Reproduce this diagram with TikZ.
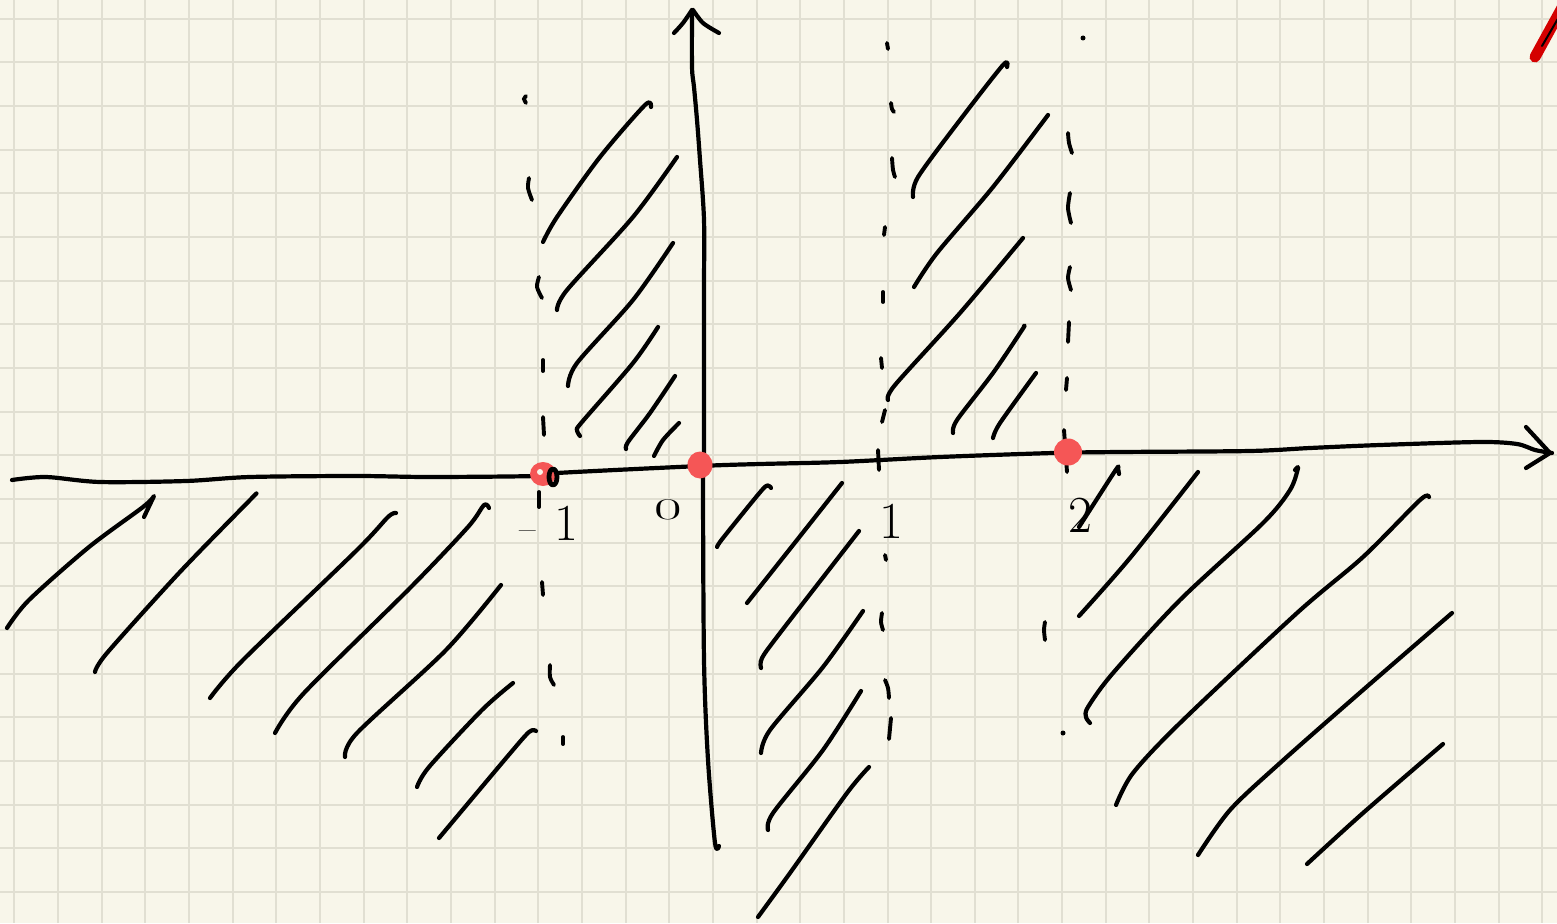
\documentclass[tikz,border=0pt]{standalone}
\usepackage{fontspec}
\usepackage{graphicx}
\definecolor{paper}{RGB}{248,246,234}
\definecolor{gridc}{RGB}{225,223,210}
\definecolor{dotred}{RGB}{245,86,86}
\definecolor{markred}{RGB}{212,0,0}
\tikzset{
  ink/.style={line width=4.2pt, line cap=round, line join=round, black},
  dsh/.style={line width=3.9pt, line cap=round, black},
  gridline/.style={gridc, line width=2pt},
  reddot/.style={fill=dotred, draw=none},
  lbl/.style={inner sep=0pt, anchor=base, font=\fontsize{52}{52}\selectfont}
}
\begin{document}
\begin{tikzpicture}[x=1pt,y=-1pt]
\useasboundingbox (0,0) rectangle (1557,923);
\fill[paper] (0,0) rectangle (1557,923);
\foreach \i in {0,...,35} \draw[gridline] ({14.3+43.66*\i},0) -- ({14.3+43.66*\i},923);
\foreach \j in {0,...,20} \draw[gridline] (0,{18.7+43.66*\j}) -- (1557,{18.7+43.66*\j});

% axes
\draw[ink] plot[smooth] coordinates {(12,480)(46,477)(100,482)(186,481)(250,477)(357,476)(429,477)(536,476)(557,473)(700,466)(760,464)(840,462)(940,457)(1053,453)(1120,452)(1250,451)(1310,448)(1380,445)(1480,442)(1517,444)(1535,450)(1552,453)};
\draw[ink] (1526,427) -- (1550,453) -- (1526,468);
\draw[ink] plot[smooth] coordinates {(692,10)(692,67)(694,87)(697,120)(700,160)(704,220)(704,293)(704,460)(703,473)(704,660)(708,760)(715,843)(719,846)};
\draw[ink] plot[smooth] coordinates {(674,33)(683,23)(692,10)};
\draw[ink] plot[smooth] coordinates {(693,10)(703,23)(719,33)};

% hatching left of -1
\draw[ink] plot[smooth] coordinates {(7,628)(29,600)(89,547)(143,507)(154,496)} -- (144,517);
\draw[ink] plot[smooth] coordinates {(95,672)(107,653)(179,573)(250,500)(255,495)};
\draw[ink] plot[smooth] coordinates {(210,698)(243,660)(357,550)(388,517)(396,513)};
\draw[ink] plot[smooth] coordinates {(275,733)(304,693)(411,587)(468,527)(484,505)(489,508)};
\draw[ink] plot[smooth] coordinates {(345,757)(357,733)(446,650)(501,585)};
\draw[ink] plot[smooth] coordinates {(417,787)(429,767)(482,710)(513,683)};
\draw[ink] plot[smooth] coordinates {(439,838)(507,757)(529,732)(536,731)};

% hatching between -1 and 0
\draw[ink] plot[smooth] coordinates {(543,242)(557,217)(600,157)(645,105)(651,107)};
\draw[ink] plot[smooth] coordinates {(557,310)(567,290)(633,217)(677,157)};
\draw[ink] plot[smooth] coordinates {(568,386)(577,363)(633,300)(673,243)};
\draw[ink] plot[smooth] coordinates {(580,436)(577,430)(582,422)(633,363)(658,327)};
\draw[ink] plot[smooth] coordinates {(626,449)(628,442)(650,413)(675,376)};
\draw[ink] plot[smooth] coordinates {(654,456)(663,440)(679,423)};

% hatching between 0 and 1
\draw[ink] plot[smooth] coordinates {(717,547)(723,538)(762,490)(769,486)(771,488)};
\draw[ink] plot[smooth] coordinates {(747,603)(797,540)(842,483)};
\draw[ink] plot[smooth] coordinates {(761,668)(762,658)(780,633)(859,531)};
\draw[ink] plot[smooth] coordinates {(761,753)(770,730)(823,667)(863,611)};
\draw[ink] plot[smooth] coordinates {(768,830)(773,813)(823,750)(861,691)};
\draw[ink] plot[smooth] coordinates {(758,917)(790,873)(847,793)(869,767)};

% hatching between 1 and 2
\draw[ink] plot[smooth] coordinates {(913,197)(918,177)(960,120)(1003,65)(1007,67)};
\draw[ink] plot[smooth] coordinates {(914,287)(937,253)(993,187)(1048,115)};
\draw[ink] plot[smooth] coordinates {(888,400)(895,385)(960,313)(1023,238)};
\draw[ink] plot[smooth] coordinates {(953,433)(957,420)(993,373)(1022,330)(1024,326)};
\draw[ink] plot[smooth] coordinates {(993,438)(1000,423)(1036,373)};

% hatching right of 2
\draw[ink] plot[smooth] coordinates {(1079,527)(1115,471)(1118,468)} -- (1119,474);
\draw[ink] plot[smooth] coordinates {(1079,616)(1130,558)(1198,472)};
\draw[ink] plot[smooth] coordinates {(1090,723)(1086,717)(1088,707)(1113,673)(1180,600)(1263,523)(1290,490)(1298,468)(1295,470)};
\draw[ink] plot[smooth] coordinates {(1116,805)(1133,773)(1180,723)(1297,613)(1363,557)(1420,500)(1429,497)};
\draw[ink] plot[smooth] coordinates {(1198,855)(1230,810)(1280,763)(1363,690)(1452,613)};
\draw[ink] plot[smooth] coordinates {(1307,864)(1363,813)(1443,744)};

% dashed vertical at -1
\draw[dsh] plot[smooth] coordinates {(526,96)(524,99)(526,103)};
\draw[dsh] plot[smooth] coordinates {(529,178)(528,188)(532,200)};
\draw[dsh] plot[smooth] coordinates {(539,277)(537,287)(542,298)};
\draw[dsh] (543,360) -- (543,371);
\draw[dsh] (543,417) -- (544,435);
\draw[dsh] (539,492) -- (539,507);
\draw[dsh] (542,582) -- (543,595);
\draw[dsh] plot[smooth] coordinates {(550,665)(550,677)(554,685)};
\draw[dsh] (563,737) -- (563,744);

% dashed vertical at 1
\draw[dsh] (887,43) -- (888,49);
\draw[dsh] plot[smooth] coordinates {(891,103)(892,109)(894,112)};
\draw[dsh] plot[smooth] coordinates {(892,158)(893,170)(895,177)};
\draw[dsh] (885,227) -- (884,235);
\draw[dsh] (883,292) -- (883,302);
\draw[dsh] (881,358) -- (882,368);
\draw[dsh] (885,410) -- (882,422);
\draw[dsh] (878,450) -- (879,470);
\draw[dsh] (885,555) -- (886,560);
\draw[dsh] plot[smooth] coordinates {(882,613)(881,622)(883,630)};
\draw[dsh] plot[smooth] coordinates {(885,680)(888,688)(889,698)};
\draw[dsh] (891,718) -- (889,739);

% dashed vertical at 2
\fill (1083,38) circle (2.5pt);
\draw[dsh] plot[smooth] coordinates {(1068,133)(1069,143)(1072,153)};
\draw[dsh] plot[smooth] coordinates {(1070,193)(1068,208)(1071,223)};
\draw[dsh] plot[smooth] coordinates {(1070,267)(1068,278)(1071,290)};
\draw[dsh] (1069,322) -- (1068,342);
\draw[dsh] (1067,378) -- (1066,390);
\draw[dsh] (1064,430) -- (1067,472);
\draw[dsh] plot[smooth] coordinates {(1045,622)(1044,630)(1045,640)};
\fill (1063,733) circle (2.5pt);

% red points
\fill[reddot] (543,474) ellipse (13pt and 12pt);
\fill[paper] (540,472) circle (3pt);
\draw[ink, line width=4.8pt] (553,477) ellipse (4pt and 8pt);
\fill[reddot] (700,465) ellipse (12.5pt and 13.5pt);
\fill[reddot] (1068,452) ellipse (14pt and 13.5pt);

% labels
\node[lbl, anchor=base west] (lm1) at (519,540) {{\fontsize{36}{36}\selectfont\textendash}\hspace{19pt}1};
\node[lbl, font=\fontsize{30}{30}\selectfont] (l0) at (668,519) {\scalebox{2}[1]{0}};
\node[lbl] (l1) at (891,538) {1};
\node[lbl] (l2) at (1080,532) {2};

% red mark top right
\draw[markred, line width=11pt, line cap=round] (1535,57) -- (1563,6);
\draw[black, line width=2pt, line cap=round] (1542,46) -- (1563,10);
\end{tikzpicture}
\end{document}
